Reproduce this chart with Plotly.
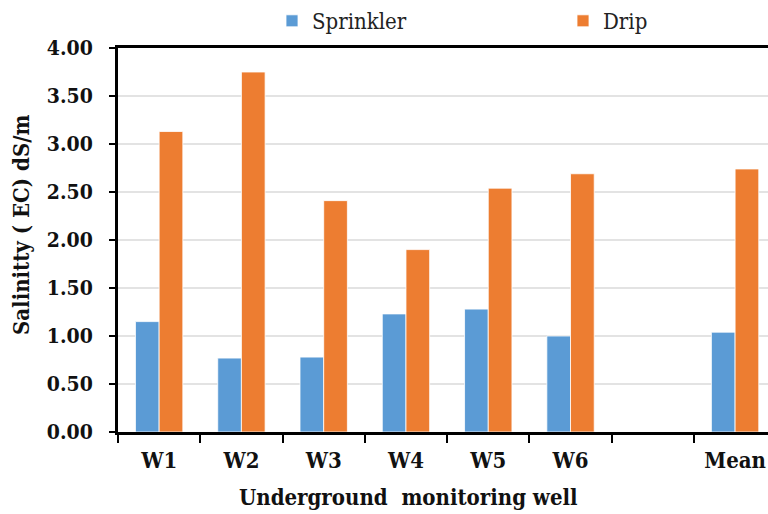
import plotly.graph_objects as go

categories = ["W1", "W2", "W3", "W4", "W5", "W6", " ", "Mean"]
sprinkler = [1.15, 0.77, 0.78, 1.23, 1.28, 1.00, None, 1.04]
drip = [3.13, 3.75, 2.41, 1.90, 2.54, 2.69, None, 2.74]
y_ticks = [0, 0.5, 1.0, 1.5, 2.0, 2.5, 3.0, 3.5, 4.0]

FONT = "DejaVu Serif Condensed, DejaVu Serif"

fig = go.Figure()
fig.add_trace(go.Bar(x=categories, y=sprinkler, name="Sprinkler", legend="legend",
                     marker=dict(color="#5B9BD5", line=dict(color="#ffffff", width=0.8))))
fig.add_trace(go.Bar(x=categories, y=drip, name="Drip", legend="legend2",
                     marker=dict(color="#ED7D31", line=dict(color="#ffffff", width=0.8))))

leg_common = dict(orientation="h", y=1.0 + 48 / 384, xanchor="left", yanchor="top",
                  font=dict(family=FONT, size=22, color="#222222"),
                  itemwidth=30, bgcolor="rgba(0,0,0,0)")

fig.update_layout(
    width=768, height=514,
    margin=dict(l=118, r=0, t=48, b=82, autoexpand=False),
    paper_bgcolor="white", plot_bgcolor="white",
    barmode="group", bargap=0.424, bargroupgap=0,
    font=dict(family=FONT, color="black"),
    showlegend=True,
    legend=dict(x=(272 - 118) / 650, **leg_common),
    legend2=dict(x=(563 - 118) / 650, **leg_common),
    xaxis=dict(
        type="category", range=[-0.5, 7.4],
        showline=True, linecolor="black", linewidth=3, mirror=True,
        ticks="outside", tickson="boundaries", ticklen=8, tickwidth=1.5, tickcolor="black",
        ticklabelstandoff=7,
        tickfont=dict(family=FONT, size=22, color="#111111", weight="bold"),
        showgrid=False, zeroline=False,
    ),
    yaxis=dict(
        range=[0, 4], tickvals=y_ticks, tickformat=".2f",
        showline=True, linecolor="black", linewidth=3,
        ticks="outside", ticklen=6, tickwidth=2, tickcolor="black",
        ticklabelstandoff=12,
        tickfont=dict(family=FONT, size=21, color="#111111", weight="bold"),
        showgrid=True, gridcolor="#e3e3e3", gridwidth=1.5, zeroline=False,
    ),
    annotations=[
        dict(text="Underground  monitoring well", xref="paper", yref="paper",
             x=(408 - 118) / 650, y=-(497 - 432) / 384, xanchor="center", yanchor="middle",
             showarrow=False, font=dict(family=FONT, size=22, color="#111111", weight="bold")),
        dict(text="Salinitty ( EC) dS/m", xref="paper", yref="paper",
             x=-(118 - 21) / 650, y=(432 - 225) / 384, xanchor="center", yanchor="middle",
             textangle=-90, showarrow=False,
             font=dict(family=FONT, size=22, color="#111111", weight="bold")),
    ],
)

fig.write_html("out.html")
